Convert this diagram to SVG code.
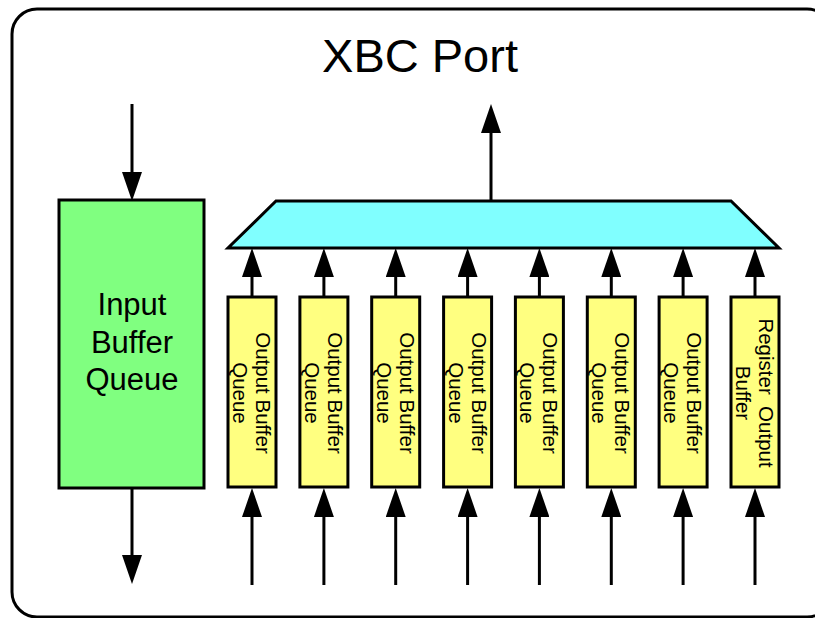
<svg xmlns="http://www.w3.org/2000/svg" width="815" height="618" viewBox="0 0 815 618">
<style>
.frame{fill:#fff;stroke:#000;stroke-width:3}
.box{stroke:#000;stroke-width:3;stroke-linejoin:miter}
.green{fill:#80FF80}
.yellow{fill:#FFFF80}
.cyan{fill:#80FFFF}
.conn line{stroke:#000;stroke-width:3;marker-end:url(#ah)}
text{font-family:"Liberation Sans",Arial,sans-serif;fill:#000;text-anchor:middle}
.vt{font-size:20.5px}
.big{font-size:31px}
.title{font-size:47px}
</style>
<defs>
<marker id="ah" markerUnits="userSpaceOnUse" markerWidth="29" markerHeight="20" refX="18" refY="10" orient="auto">
<path d="M0,0 L29,10 L0,20 z" fill="#000"/>
</marker>
</defs>
<rect class="frame" x="12" y="9" width="820" height="608" rx="25" ry="25"/>
<text class="title" x="420" y="72">XBC Port</text>

<g id="input-buffer-queue">
<rect class="box green" x="59" y="200" width="145" height="288"/>
<text class="big" x="132" y="315">Input</text>
<text class="big" x="132" y="352.5">Buffer</text>
<text class="big" x="132" y="390">Queue</text>
</g>

<g id="mux">
<polygon class="box cyan" points="276,201 731,201 779,248 228,248"/>
</g>

<g id="obq1"><rect class="box yellow" x="228" y="297" width="48" height="190"/>
<g transform="translate(252,393) rotate(90)"><text class="vt" x="0" y="-4">Output Buffer</text><text class="vt" x="0" y="19">Queue</text></g></g>
<g id="obq2"><rect class="box yellow" x="299.9" y="297" width="48" height="190"/>
<g transform="translate(323.9,393) rotate(90)"><text class="vt" x="0" y="-4">Output Buffer</text><text class="vt" x="0" y="19">Queue</text></g></g>
<g id="obq3"><rect class="box yellow" x="371.7" y="297" width="48" height="190"/>
<g transform="translate(395.7,393) rotate(90)"><text class="vt" x="0" y="-4">Output Buffer</text><text class="vt" x="0" y="19">Queue</text></g></g>
<g id="obq4"><rect class="box yellow" x="443.6" y="297" width="48" height="190"/>
<g transform="translate(467.6,393) rotate(90)"><text class="vt" x="0" y="-4">Output Buffer</text><text class="vt" x="0" y="19">Queue</text></g></g>
<g id="obq5"><rect class="box yellow" x="515.4" y="297" width="48" height="190"/>
<g transform="translate(539.4,393) rotate(90)"><text class="vt" x="0" y="-4">Output Buffer</text><text class="vt" x="0" y="19">Queue</text></g></g>
<g id="obq6"><rect class="box yellow" x="587.3" y="297" width="48" height="190"/>
<g transform="translate(611.3,393) rotate(90)"><text class="vt" x="0" y="-4">Output Buffer</text><text class="vt" x="0" y="19">Queue</text></g></g>
<g id="obq7"><rect class="box yellow" x="659.1" y="297" width="48" height="190"/>
<g transform="translate(683.1,393) rotate(90)"><text class="vt" x="0" y="-4">Output Buffer</text><text class="vt" x="0" y="19">Queue</text></g></g>
<g id="rob"><rect class="box yellow" x="731" y="297" width="48" height="190"/>
<g transform="translate(755,393) rotate(90)"><text class="vt" x="0" y="-4" xml:space="preserve">Register  Output</text><text class="vt" x="0" y="19">Buffer</text></g></g>

<g id="connectors" class="conn">
<line x1="132" y1="104" x2="132" y2="190"/>
<line x1="132" y1="489" x2="132" y2="573"/>
<line x1="491" y1="201" x2="491" y2="115"/>
<line x1="252" y1="297" x2="252" y2="259"/>
<line x1="323.9" y1="297" x2="323.9" y2="259"/>
<line x1="395.7" y1="297" x2="395.7" y2="259"/>
<line x1="467.6" y1="297" x2="467.6" y2="259"/>
<line x1="539.4" y1="297" x2="539.4" y2="259"/>
<line x1="611.3" y1="297" x2="611.3" y2="259"/>
<line x1="683.1" y1="297" x2="683.1" y2="259"/>
<line x1="755" y1="297" x2="755" y2="259"/>
<line x1="252" y1="585" x2="252" y2="499"/>
<line x1="323.9" y1="585" x2="323.9" y2="499"/>
<line x1="395.7" y1="585" x2="395.7" y2="499"/>
<line x1="467.6" y1="585" x2="467.6" y2="499"/>
<line x1="539.4" y1="585" x2="539.4" y2="499"/>
<line x1="611.3" y1="585" x2="611.3" y2="499"/>
<line x1="683.1" y1="585" x2="683.1" y2="499"/>
<line x1="755" y1="585" x2="755" y2="499"/>
</g>
</svg>
